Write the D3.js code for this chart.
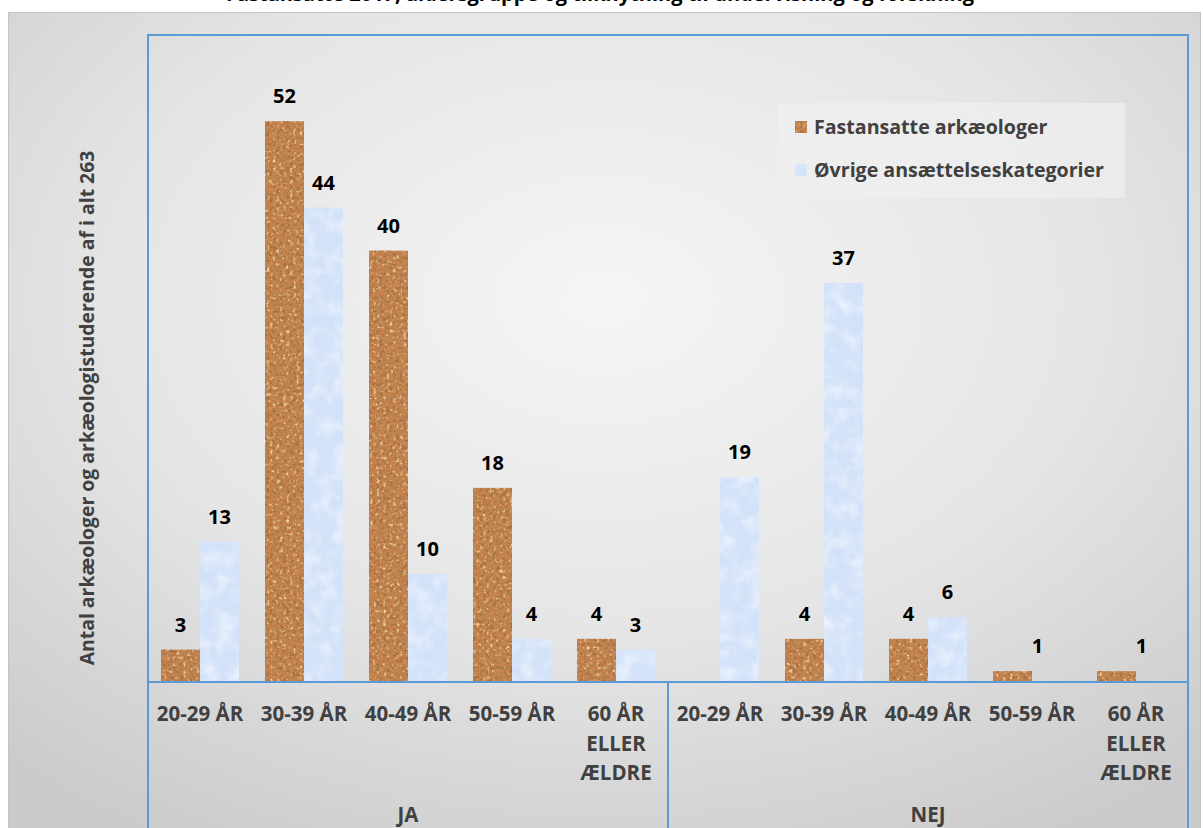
<!DOCTYPE html>
<html><head><meta charset="utf-8">
<script src="https://cdn.jsdelivr.net/npm/d3@7"></script>
<style>
html,body{margin:0;padding:0;background:#fff;}
svg{display:block;font-family:"Open Sans",Lato,sans-serif;}
</style></head>
<body><svg id="c" width="1203" height="828"></svg>
<script>
const groups = ["JA", "NEJ"];
const ages = ["20-29 ÅR", "30-39 ÅR", "40-49 ÅR", "50-59 ÅR", "60 ÅR ELLER ÆLDRE"];
const seriesNames = ["Fastansatte arkæologer", "Øvrige ansættelseskategorier"];
const fastansatte = [3, 52, 40, 18, 4, null, 4, 4, 1, 1];
const ovrige = [13, 44, 10, 4, 3, 19, 37, 6, null, null];
const yTitle = "Antal arkæologer og arkæologistuderende af i alt 263";
const chartTitle = "Fastansatte 2017, aldersgruppe og tilknytning til undervisning og forskning";

const svg = d3.select("#c");
const defs = svg.append("defs");

const bg = defs.append("radialGradient").attr("id","bg")
  .attr("cx","0.5").attr("cy","0.35").attr("r","0.75");
bg.append("stop").attr("offset","0").attr("stop-color","#f5f5f5");
bg.append("stop").attr("offset","0.55").attr("stop-color","#e5e5e5");
bg.append("stop").attr("offset","1").attr("stop-color","#cbcbcb");

const f1 = defs.append("filter").attr("id","cork").attr("x","0").attr("y","0").attr("width","1").attr("height","1");
f1.append("feTurbulence").attr("type","fractalNoise").attr("baseFrequency","0.3").attr("numOctaves","2").attr("seed","7").attr("result","n");
f1.append("feColorMatrix").attr("in","n").attr("type","matrix")
  .attr("values","0 0 0 0 0.38  0 0 0 0 0.17  0 0 0 0 0.06  4.5 0 0 0 -2.2").attr("result","d");
f1.append("feColorMatrix").attr("in","n").attr("type","matrix")
  .attr("values","0 0 0 0 0.9  0 0 0 0 0.68  0 0 0 0 0.42  0 -4 0 0 1.75").attr("result","l");
f1.append("feMerge").call(m => { m.append("feMergeNode").attr("in","l"); m.append("feMergeNode").attr("in","d"); }).attr("result","m");
f1.append("feComposite").attr("in","m").attr("in2","SourceGraphic").attr("operator","in");

const f2 = defs.append("filter").attr("id","frost").attr("x","0").attr("y","0").attr("width","1").attr("height","1");
f2.append("feTurbulence").attr("type","fractalNoise").attr("baseFrequency","0.06").attr("numOctaves","3").attr("seed","3").attr("result","n");
f2.append("feColorMatrix").attr("in","n").attr("type","matrix")
  .attr("values","0 0 0 0 0.95  0 0 0 0 0.97  0 0 0 0 1  1.3 0 0 0 -0.55").attr("result","d");
f2.append("feComposite").attr("in","d").attr("in2","SourceGraphic").attr("operator","in");

// title (clipped at top, as in the reference)
svg.append("text").attr("x", 600).attr("y", 1).attr("text-anchor","middle")
  .attr("font-size", 20).attr("font-weight","bold").attr("fill","#000").text(chartTitle);

svg.append("rect").attr("x", 8.5).attr("y", 12.5).attr("width", 1192).attr("height", 820)
  .attr("fill","url(#bg)").attr("stroke","#c4c4c4").attr("stroke-width",1);

const plot = {l:148, r:1188, t:35, b:682};

const keys = [];
groups.forEach(g => ages.forEach(a => keys.push(g + "|" + a)));
const x = d3.scaleBand().domain(keys).range([plot.l, plot.r]).paddingInner(0.25).paddingOuter(0.125);
const xs = d3.scaleBand().domain(seriesNames).range([0, x.bandwidth()]);
const y = d3.scaleLinear().domain([0, 60]).range([plot.b, plot.t]);

const data = [];
keys.forEach((k, i) => {
  data.push({k, s: seriesNames[0], v: fastansatte[i]});
  data.push({k, s: seriesNames[1], v: ovrige[i]});
});
const bars = data.filter(d => d.v != null);

const colors = {[seriesNames[0]]: "#c4834d", [seriesNames[1]]: "#d3e2f9"};
const filters = {[seriesNames[0]]: "url(#cork)", [seriesNames[1]]: "url(#frost)"};

const gb = svg.append("g");
gb.selectAll("rect.b").data(bars).join("rect").attr("class","b")
  .attr("x", d => x(d.k) + xs(d.s)).attr("width", xs.bandwidth())
  .attr("y", d => y(d.v)).attr("height", d => y(0) - y(d.v))
  .attr("fill", d => colors[d.s]);
gb.selectAll("rect.t").data(bars).join("rect").attr("class","t")
  .attr("x", d => x(d.k) + xs(d.s)).attr("width", xs.bandwidth())
  .attr("y", d => y(d.v)).attr("height", d => y(0) - y(d.v))
  .attr("fill", "#fff").attr("filter", d => filters[d.s]);

gb.selectAll("text.v").data(bars).join("text").attr("class","v")
  .attr("x", d => x(d.k) + xs(d.s) + xs.bandwidth()/2 + (d.v === 1 ? 25 : 0))
  .attr("y", d => y(d.v) - 18)
  .attr("text-anchor","middle").attr("font-size", 20).attr("font-weight","bold").attr("fill","#000")
  .text(d => d.v);

svg.append("rect").attr("x", plot.l).attr("y", plot.t).attr("width", plot.r - plot.l).attr("height", 900)
  .attr("fill","none").attr("stroke","#5b9bd5").attr("stroke-width",2);
svg.append("line").attr("x1", plot.l).attr("x2", plot.r).attr("y1", plot.b).attr("y2", plot.b)
  .attr("stroke","#5b9bd5").attr("stroke-width",2);
const mid = x(keys[5]) - x.step()*x.paddingInner()/2;
svg.append("line").attr("x1", mid).attr("x2", mid).attr("y1", plot.b).attr("y2", 828)
  .attr("stroke","#5b9bd5").attr("stroke-width",2);

const cat = svg.append("g").attr("font-size", 20.5).attr("font-weight","bold").attr("fill","#404040").attr("text-anchor","middle");
keys.forEach(k => {
  const a = k.split("|")[1];
  const lines = a === "60 ÅR ELLER ÆLDRE" ? ["60 ÅR","ELLER","ÆLDRE"] : [a];
  const cx = x(k) + x.bandwidth()/2;
  const t = cat.append("text").attr("x", cx).attr("y", 721);
  lines.forEach((ln, i) => t.append("tspan").attr("x", cx).attr("dy", i ? 29.5 : 0).text(ln));
});
groups.forEach(g => {
  const ks = keys.filter(k => k.startsWith(g + "|"));
  const x0 = x(ks[0]) - x.step()*x.paddingInner()/2, x1 = x(ks[ks.length-1]) + x.bandwidth() + x.step()*x.paddingInner()/2;
  cat.append("text").attr("x", (x0 + x1)/2).attr("y", 822).text(g);
});

svg.append("text").attr("transform","translate(94,408) rotate(-90)").attr("text-anchor","middle")
  .attr("font-size", 19.4).attr("font-weight","bold").attr("fill","#404040").text(yTitle);

const lg = svg.append("g");
lg.append("rect").attr("x", 778).attr("y", 103).attr("width", 347).attr("height", 95).attr("fill","#efefef").attr("opacity",0.7);
seriesNames.forEach((s, i) => {
  const yy = 127 + i*43;
  lg.append("rect").attr("x", 795).attr("y", yy-6).attr("width", 12).attr("height", 12).attr("fill", colors[s]);
  lg.append("rect").attr("x", 795).attr("y", yy-6).attr("width", 12).attr("height", 12).attr("fill", "#fff").attr("filter", filters[s]);
  lg.append("text").attr("x", 814).attr("y", yy + 7).attr("font-size", 19.6).attr("font-weight","bold").attr("fill","#404040").text(s);
});
</script></body></html>
